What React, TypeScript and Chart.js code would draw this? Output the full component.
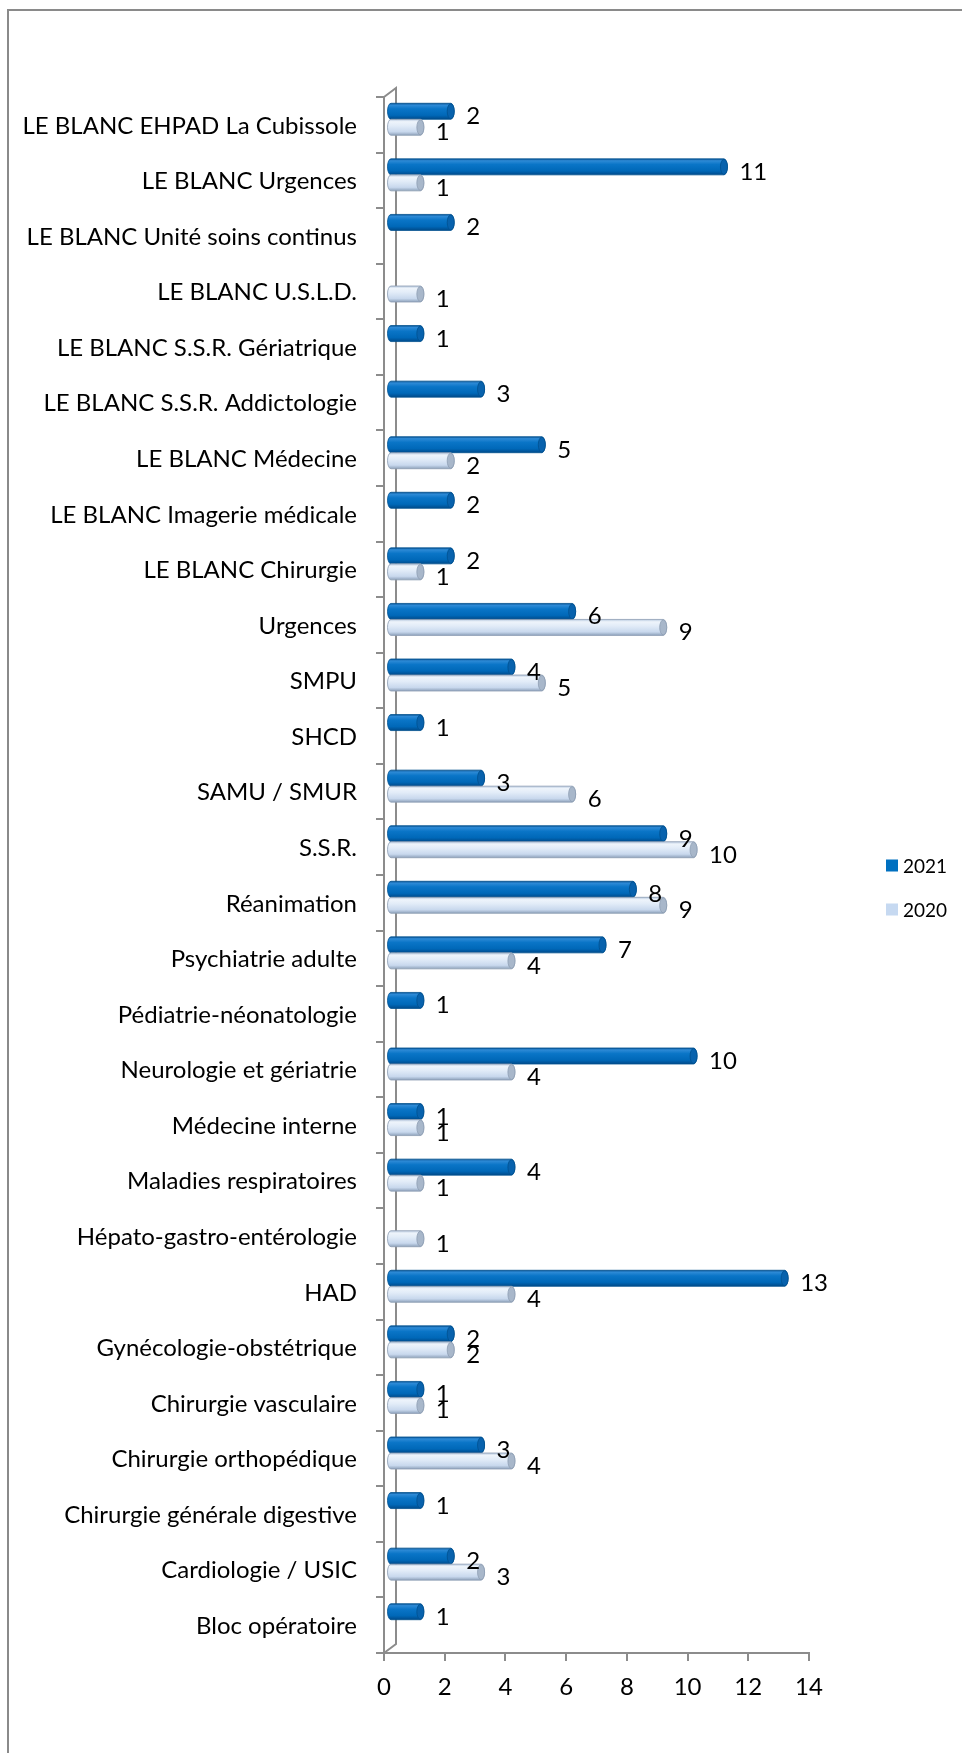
import React, { useEffect, useRef } from "react";
import { Chart, registerables } from "chart.js";

Chart.register(...registerables);

// Services, listed top to bottom as they appear on the vertical axis
const categories = [
  "LE BLANC EHPAD La Cubissole",
  "LE BLANC Urgences",
  "LE BLANC Unité soins continus",
  "LE BLANC U.S.L.D.",
  "LE BLANC S.S.R. Gériatrique",
  "LE BLANC S.S.R. Addictologie",
  "LE BLANC Médecine",
  "LE BLANC Imagerie médicale",
  "LE BLANC Chirurgie",
  "Urgences",
  "SMPU",
  "SHCD",
  "SAMU / SMUR",
  "S.S.R.",
  "Réanimation",
  "Psychiatrie adulte",
  "Pédiatrie-néonatologie",
  "Neurologie et gériatrie",
  "Médecine interne",
  "Maladies respiratoires",
  "Hépato-gastro-entérologie",
  "HAD",
  "Gynécologie-obstétrique",
  "Chirurgie vasculaire",
  "Chirurgie orthopédique",
  "Chirurgie générale digestive",
  "Cardiologie / USIC",
  "Bloc opératoire",
];

const values2021 = [2, 11, 2, null, 1, 3, 5, 2, 2, 6, 4, 1, 3, 9, 8, 7, 1, 10, 1, 4, null, 13, 2, 1, 3, 1, 2, 1];
const values2020 = [1, 1, null, 1, null, null, 2, null, 1, 9, 5, null, 6, 10, 9, 4, null, 4, 1, 1, 1, 4, 2, 1, 4, null, 3, null];

const seriesNames = ["2021", "2020"];
const seriesColors = ["#0070C0", "#C6D9F1"];

const axisMin = 0;
const axisMax = 14;
const axisStep = 2;

const FONT = "Lato, 'Open Sans', sans-serif";
const AXIS_GREY = "#8C8C8C";

// depth of the pseudo-3D floor/wall and the offset of the bars inside it
const DEPTH_X = 12;
const DEPTH_Y = -9;
const BAR_DX = 6;
const BAR_DY = -5.5;
const CAP_RX = 3.5;

type CylStyle = { stops: [number, string][]; edge: string; cap: string };

const cylStyles: CylStyle[] = [
  {
    stops: [
      [0, "#0b5698"],
      [0.12, "#2d8ad6"],
      [0.35, "#0a75c7"],
      [0.75, "#0068b8"],
      [1, "#004a8a"],
    ],
    edge: "#00508f",
    cap: "#0862ad",
  },
  {
    stops: [
      [0, "#b7c9df"],
      [0.15, "#eef4fb"],
      [0.4, "#e2ecf8"],
      [0.78, "#c8d8ed"],
      [1, "#8ea2bb"],
    ],
    edge: "#8d9db2",
    cap: "#a8b7ca",
  },
];

function drawCylinder(ctx: CanvasRenderingContext2D, x0: number, x1: number, yc: number, h: number, st: CylStyle) {
  const top = yc - h / 2;
  const bot = yc + h / 2;
  const ry = h / 2;
  const g = ctx.createLinearGradient(0, top, 0, bot);
  st.stops.forEach(([o, c]) => g.addColorStop(o, c));
  ctx.save();
  ctx.beginPath();
  ctx.ellipse(x0, yc, CAP_RX, ry, 0, Math.PI / 2, (Math.PI * 3) / 2);
  ctx.lineTo(x1, top);
  ctx.ellipse(x1, yc, CAP_RX, ry, 0, -Math.PI / 2, Math.PI / 2);
  ctx.closePath();
  ctx.fillStyle = g;
  ctx.fill();
  ctx.lineWidth = 0.8;
  ctx.strokeStyle = st.edge;
  ctx.stroke();
  ctx.beginPath();
  ctx.ellipse(x1, yc, CAP_RX, ry - 0.5, 0, 0, Math.PI * 2);
  ctx.fillStyle = st.cap;
  ctx.fill();
  ctx.stroke();
  ctx.restore();
}

// Draws bars as horizontal cylinders plus their value labels
const cylinderPlugin = {
  id: "cylinders",
  beforeDatasetsDraw(chart: any) {
    const ctx: CanvasRenderingContext2D = chart.ctx;
    const labels: { x: number; y: number; text: string }[] = [];
    chart.data.datasets.forEach((ds: any, di: number) => {
      const meta = chart.getDatasetMeta(di);
      meta.data.forEach((el: any, i: number) => {
        const v = ds.data[i];
        if (v == null) return;
        const p = el.getProps(["x", "y", "base", "height"], true);
        drawCylinder(ctx, p.base + BAR_DX, p.x + BAR_DX, p.y + BAR_DY, p.height, cylStyles[di]);
        labels.push({ x: p.x + BAR_DX + CAP_RX + 12, y: p.y + BAR_DY + 13, text: String(v) });
      });
    });
    ctx.save();
    ctx.font = `24px ${FONT}`;
    ctx.fillStyle = "#000";
    ctx.textAlign = "left";
    ctx.textBaseline = "alphabetic";
    labels.forEach((l) => ctx.fillText(l.text, l.x, l.y));
    ctx.restore();
    return false;
  },
};

// Back wall edge and the slanted joins of the pseudo-3D frame
const wallPlugin = {
  id: "wall",
  beforeDraw(chart: any) {
    const { left, top, bottom } = chart.chartArea;
    const ctx: CanvasRenderingContext2D = chart.ctx;
    ctx.save();
    ctx.strokeStyle = AXIS_GREY;
    ctx.lineWidth = 2;
    ctx.beginPath();
    ctx.moveTo(left, top);
    ctx.lineTo(left + DEPTH_X, top + DEPTH_Y);
    ctx.lineTo(left + DEPTH_X, bottom + DEPTH_Y);
    ctx.lineTo(left, bottom);
    ctx.stroke();
    ctx.restore();
  },
};

// Legend at the right, square swatches
const legendPlugin = {
  id: "sideLegend",
  afterDraw(chart: any) {
    const ctx: CanvasRenderingContext2D = chart.ctx;
    const x = 886;
    const y0 = 865.5;
    const gap = 44;
    ctx.save();
    ctx.font = `19px ${FONT}`;
    ctx.textBaseline = "middle";
    ctx.textAlign = "left";
    chart.data.datasets.forEach((ds: any, i: number) => {
      const cy = y0 + i * gap;
      ctx.fillStyle = ds.backgroundColor;
      ctx.fillRect(x, cy - 6, 12, 12);
      ctx.fillStyle = "#000";
      ctx.fillText(ds.label, x + 17, cy + 1);
    });
    ctx.restore();
  },
};

export default function App() {
  const canvasRef = useRef<HTMLCanvasElement | null>(null);

  useEffect(() => {
    if (!canvasRef.current) return;
    const chart = new Chart(canvasRef.current, {
      type: "bar",
      data: {
        labels: categories,
        datasets: [
          { label: seriesNames[0], data: values2021, backgroundColor: seriesColors[0] },
          { label: seriesNames[1], data: values2020, backgroundColor: seriesColors[1] },
        ],
      },
      options: {
        indexAxis: "y",
        animation: false,
        responsive: false,
        devicePixelRatio: 1,
        layout: { padding: { top: 97, right: 153, left: 0, bottom: 0 } },
        datasets: { bar: { categoryPercentage: 0.576, barPercentage: 1 } },
        plugins: {
          legend: { display: false },
          tooltip: { enabled: false },
        },
        scales: {
          x: {
            type: "linear",
            min: axisMin,
            max: axisMax,
            ticks: { stepSize: axisStep, padding: 12, color: "#000", font: { family: FONT, size: 24 } },
            grid: { drawOnChartArea: false, drawTicks: true, tickLength: 8, color: AXIS_GREY, lineWidth: 2 },
            border: { display: true, color: AXIS_GREY, width: 2 },
            afterFit: (scale: any) => {
              scale.height = 100;
            },
          },
          y: {
            type: "category",
            ticks: {
              autoSkip: false,
              padding: 19,
              labelOffset: 1,
              color: "#000",
              font: { family: FONT, size: 24 },
            },
            grid: { offset: true, drawOnChartArea: false, drawTicks: true, tickLength: 8, color: AXIS_GREY, lineWidth: 2 },
            border: { display: true, color: AXIS_GREY, width: 2 },
            afterFit: (scale: any) => {
              scale.width = 384;
            },
          },
        },
      },
      plugins: [wallPlugin, cylinderPlugin, legendPlugin],
    } as any);
    return () => chart.destroy();
  }, []);

  return (
    <div
      style={{
        position: "absolute",
        left: 0,
        top: 0,
        width: 962,
        height: 1753,
        overflow: "hidden",
        background: "#fff",
      }}
    >
      <div
        style={{
          position: "absolute",
          left: 7,
          top: 9,
          width: 1100,
          height: 1900,
          border: "2px solid #8A8A8A",
        }}
      />
      <canvas
        ref={canvasRef}
        width={962}
        height={1753}
        style={{ position: "absolute", left: 0, top: 0, width: 962, height: 1753 }}
      />
    </div>
  );
}
